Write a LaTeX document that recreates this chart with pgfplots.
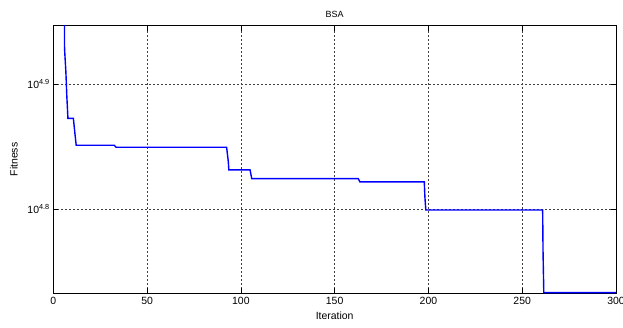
\documentclass[border=0pt]{standalone}
\usepackage{fontspec}
\setmainfont{Liberation Sans}
\usepackage{pgfplots}
\pgfplotsset{compat=1.18}
\begin{document}
\begin{tikzpicture}
\begin{axis}[
  scale only axis,
  width=562.7bp, height=267.6bp,
  ymode=log, log basis y=10,
  xmin=0, xmax=300,
  ymin=54001, ymax=88512,
  xtick={0,50,100,150,200,250,300},
  ytick={63095.7,79432.8},
  yticklabels={10\textsuperscript{4.8},10\textsuperscript{4.9}},
  minor ytick={}, 
  /pgf/number format/assume math mode=true,
  tick label style={font=\fontsize{10.5}{12}\selectfont},
  label style={font=\fontsize{10.5}{12}\selectfont},
  title style={font=\fontsize{9}{11}\selectfont, yshift=-1bp},
  title={BSA},
  xlabel={Iteration},
  ylabel={Fitness},
  xlabel style={yshift=-1bp},
  ylabel style={yshift=3bp},
  grid=major,
  major grid style={dash pattern=on 2bp off 2bp, black!75, line width=0.5bp},
  tick align=inside,
  major tick length=5bp,
  tick style={black, line width=0.5bp},
  axis line style={black, line width=0.7bp},
  xtick pos=both, ytick pos=both,
  clip=true,
]
\addplot[blue, line width=1.4bp] coordinates {
(0,316228) (5,316228) (6,84779) (6.7,81301) (7.2,77786) (7.8,74591)
(10.7,74591) (11.5,72592) (12.2,70977)
(32.5,70977) (33.5,70716)
(92.4,70716) (93.3,68863) (93.6,67809)
(104.9,67809) (105.8,66724)
(162.6,66724) (163.5,66326)
(197.8,66326) (198.1,64553) (198.6,62980)
(260.9,62980) (261.1,58324) (261.5,54060)
(300,54060)
};
\end{axis}
\pgfresetboundingbox
\path (-53.3bp,-34.7bp) rectangle (569.7bp,293.3bp);
\end{tikzpicture}
\end{document}
